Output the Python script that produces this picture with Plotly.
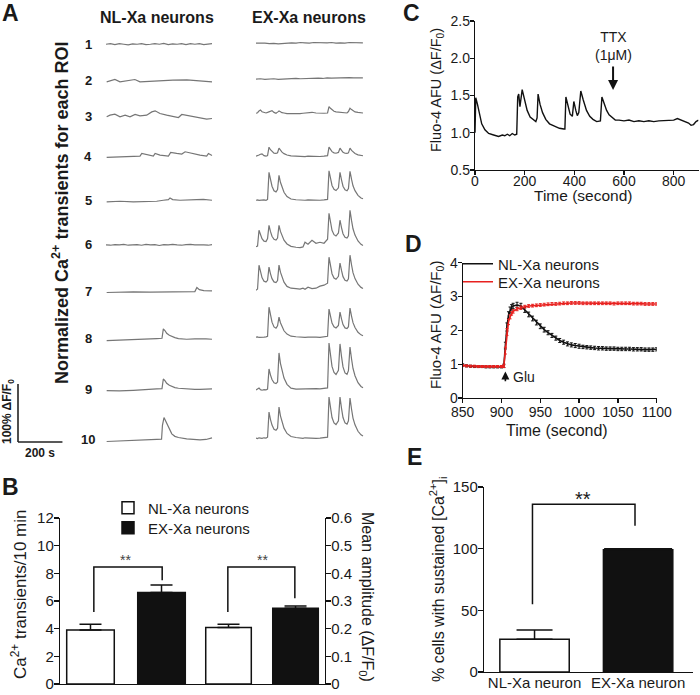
import plotly.graph_objects as go

W, H = 700, 695
def px(x): return x / W
def py(y): return 1 - y / H

FONT = "Liberation Sans, Arial, sans-serif"
TXT = "#1a1a1a"
TRACE_GRAY = "#767676"

# ---------------- Panel A : normalized Ca2+ transients (time s, dF/F0 %) ----------------
ROI_LABELS = ["1", "2", "3", "4", "5", "6", "7", "8", "9", "10"]
FLAT_T_NL = [0, 20, 40, 60, 80, 100, 120, 140, 160, 180, 200, 220, 240, 260, 280, 300, 320, 340, 360, 380, 400, 420, 440, 460, 477]
FLAT_T_EX = [0, 20, 40, 60, 80, 100, 120, 140, 160, 180, 200, 220, 240, 260, 280, 300, 320, 340, 360, 380, 400, 420, 440, 460, 481]

NL1_V = [0, 1, -0.5, 1, 0, -1, 0.5, 0, 1, -0.5, 0, 1, 0, 1.5, -0.5, 0.5, 0, 1, -0.5, 1, 0, 1, -0.5, 0, 1]
NL2_T = [3, 40, 63, 85, 108, 130, 153, 198, 243, 301, 364, 423, 477]
NL2_V = [-2.9, 1.2, -2.9, -1.2, 0, 1.2, -2.9, -1.7, -1.2, 0, 0.5, -1.2, -2.9]
NL3_T = [3, 18, 40, 63, 86, 108, 131, 153, 183, 206, 221, 243, 273, 303, 326, 341, 356, 386, 423, 453, 477]
NL3_V = [-1.1, 1.7, 3.4, -1.1, 1.7, -1.1, 2.9, 0.6, 1.7, 7.4, 9.2, 4.6, 1.7, -1.1, -2.3, 2.9, 1.7, -1.1, -4, -5.2, -4]
NL4_T = [3, 63, 123, 153, 161, 183, 213, 221, 243, 281, 291, 318, 341, 356, 386, 423, 453, 461, 477]
NL4_V = [-1.1, 0, 0, 1.1, 5.7, 3.4, 1.1, 5.7, 2.9, 1.1, 7.4, 5.7, 4.6, 8.6, 5.7, 2.9, 1.1, 5.7, 2.3]
NL5_T = [3, 63, 123, 183, 228, 258, 281, 288, 300, 333, 378, 408, 438, 477]
NL5_V = [-2.9, -1.7, -2.9, -2.3, -1.7, 0, 1.1, 4, 1.1, 0, 0, 1.1, 1.7, 0]
NL6_V = [0, -0.5, 0.5, 0, 1, -0.5, 0, 0.5, -0.5, 1, 0, 0.5, -1, 0.5, 0, 1, 0, -0.5, 0.5, 1, 0, 0.5, 0, -0.5, 0.5]
NL7_T = [3, 60, 123, 200, 273, 350, 400, 409, 420, 440, 460, 477]
NL7_V = [-1, 0, 0, -0.5, -0.5, 0.5, 0.6, 7.5, 4, 2.3, 1.7, 1.7]
NL8_T = [3, 60, 123, 180, 228, 252, 258, 266, 273, 285, 296, 310, 326, 363, 400, 423, 450, 477]
NL8_V = [-2.9, -2.3, -1.7, -1.1, 0.6, 1.1, 17.2, 14, 9.7, 6.3, 4.0, 2.3, 0.6, -0.6, 0, -0.6, 0, -0.6]
NL9_T = [3, 60, 123, 180, 228, 252, 258, 266, 273, 285, 296, 310, 326, 363, 400, 423, 450, 477]
NL9_V = [-1.1, -1.7, -0.6, 0, 1.7, 2.3, 18.9, 15.5, 11.5, 8, 5.7, 4.0, 2.9, 1.7, 1.1, 1.1, 1.7, 1.7]
NL10_T = [3, 60, 123, 180, 228, 250, 254, 261, 268, 273, 285, 296, 310, 326, 363, 400, 423, 450, 477]
NL10_V = [-2.9, -2.3, -1.7, -0.6, 0.6, 1.1, 25, 38.4, 33, 28.7, 17.2, 10.3, 6, 4.0, 1.7, 0, 0, 0.6, 3.4]

EX_T = [0, 7, 13.5, 20, 27, 36, 45, 52, 58.5, 65, 72, 81, 90, 97, 103.5, 110, 117, 126, 139.5, 157.5, 180,
        198, 211.5, 220.5, 234, 252, 270, 288, 306, 322,
        328.5, 335, 342, 351, 360, 371, 378, 385, 391.5, 400.5, 409.5, 416, 423, 430, 436.5, 445.5, 459, 472.5, 481.5]
EX1_V = [0, 0.5, 0, -1, -0.5, -1.5, -0.5, 0, 0.5, 0, 1, 0.5, 0, 1, 0.5, 0, 0.5, 1, 0, 0.5, 0, 1, 0.5, 0, 0.5]
EX2_V = [0, 0.5, -0.5, 0, 0.5, -0.5, 0, 0.5, 0, 1, 0.5, 1, 1.5, 1, 1.5, 1, 2, 1.5, 2, 1.5, 2, 2.5, 2, 2.5, 2]
EX3_V = [0, 1, 4, 5.7, 2.6, 1, 0.5, 1.5, 2.6, 3.4, 4.6, 1.5, 0, 2, 4, 2.6, 1, 0.5, -0.5, -0.5, -1,
         -0.5, 0, 0.5, 1, 1.7, 0.5, 0, 0, 0.5,
         11.5, 8.6, 5.7, 3.4, 2.3, 1.7, 1.2, 0.8, 0.5, 0, 0.5, 3, 8.6, 6.3, 4, 2.3, 1.5, 0.5, 0.5]
EX4_V = [0, 0.5, 2, 3.4, 4, 1, 0, 1, 15.5, 11.2, 7.8, 5.3, 4.7, 6, 13.8, 9.9, 6.9, 4.4, 2.1, 0.7, 0,
         -0.5, 0, -0.8, 0, -0.5, 0, -0.5, 0, 1,
         15.5, 11.2, 7.8, 5.7, 5.1, 6.5, 13.8, 9.9, 6.9, 5.1, 4.7, 5.8, 13.8, 9.9, 6.9, 4.6, 2.3, 1.1, 0.7]
EX5_V = [0, 0.8, 0, 0.5, 0, 0.6, 0, 1.5, 48.3, 34.8, 24.2, 16.4, 14.5, 18.4, 43.1, 31, 21.6, 13.8, 6.5, 2.2, 0.9,
         0, 0.5, 0, 0.6, 0, 0.5, 0, 0.6, 1.5,
         50.9, 36.6, 25.5, 18.8, 16.8, 21.4, 48.3, 34.8, 24.2, 17.9, 16.4, 20.3, 50, 36, 25, 16.5, 8.5, 4, 2.5]
EX6_V = [1, 2, 29.3, 21.1, 14.7, 10.5, 9.7, 15, 37.9, 27.3, 19, 13.6, 12.5, 15.9, 37.9, 27.3, 19, 12.1, 5.7, 1.5, 0,
         -0.5, 0.5, 8.6, 5.2, 12, 6.9, 8.6, 6.9, 13.8,
         58.6, 42.2, 29.3, 21.7, 19.3, 24.6, 46.6, 33.5, 23.3, 17.2, 15.8, 19.6, 63.8, 45.9, 31.9, 21, 10.8, 5.1, 3.2]
EX7_V = [0, 2, 43.1, 31, 21.6, 15.5, 14.2, 17, 39.7, 28.6, 19.9, 14.3, 13.1, 16.7, 43.1, 31, 21.6, 13.8, 6.5, 3.4, 2.6,
         1.7, 3.4, 1.7, 5.2, 2.6, 3.4, 6.9, 8.6, 12,
         56.9, 41, 28.4, 21, 18.8, 23.9, 46.6, 33.5, 23.3, 17.2, 15.8, 19.6, 60.3, 43.4, 30.2, 19.9, 10.3, 4.8, 3]
EX8_V = [0, 0.5, -0.5, 0, 0.5, 0, 0.5, 1.5, 51.7, 37.2, 25.9, 17.6, 15.5, 19.6, 34.5, 24.8, 17.3, 11, 5.2, 1.7, 0.7,
         0, 0.5, -0.5, 0, 0.5, 0, -0.5, 0.5, 1.5,
         48.3, 34.8, 24.2, 17.9, 15.9, 20.3, 43.1, 31, 21.6, 15.9, 14.7, 18.1, 50, 36, 25, 16.5, 8.5, 4, 2.5]
EX9_V = [0, 1.7, 3.4, 0.5, -0.5, 0.5, 0, 1.5, 36.2, 26, 18.1, 12.3, 10.9, 13.8, 63.8, 45.9, 31.9, 20.4, 9.6, 3.2, 1.5,
         1.7, 2.2, 1.7, 2.6, 1.7, 2.2, 1.7, 2.6, 3.4,
         81, 58.3, 40.5, 30, 26.7, 34, 79.3, 57.1, 39.7, 29.3, 27, 33.3, 74.1, 53.4, 37, 24.5, 12.6, 6, 3.7]
EX10_V = [0, -0.8, 0.5, 0, -0.5, 0.5, 0, 1.5, 44.8, 32.3, 22.4, 15.2, 13.4, 17, 53.4, 38.4, 26.7, 17.1, 8, 2.7, 1,
          0, -0.5, 0.5, 0, 0.5, -0.5, 0, 0.6, 1.5,
          70.7, 50.9, 35.4, 26.2, 23.3, 29.7, 70.7, 50.9, 35.4, 26.2, 24, 29.7, 69, 49.7, 34.5, 22.8, 11.7, 5.5, 3.5]

NL_TRACES = [(FLAT_T_NL, NL1_V), (NL2_T, NL2_V), (NL3_T, NL3_V), (NL4_T, NL4_V), (NL5_T, NL5_V),
             (FLAT_T_NL, NL6_V), (NL7_T, NL7_V), (NL8_T, NL8_V), (NL9_T, NL9_V), (NL10_T, NL10_V)]
EX_TRACES = [(FLAT_T_EX, EX1_V), (FLAT_T_EX, EX2_V), (EX_T, EX3_V), (EX_T, EX4_V), (EX_T, EX5_V),
             (EX_T, EX6_V), (EX_T, EX7_V), (EX_T, EX8_V), (EX_T, EX9_V), (EX_T, EX10_V)]

# vertical stacking offsets of the rows (layout, % units)
ROW_OFFSET_NL = [703, 641, 579, 509, 434, 357, 276, 195, 107, 21]
ROW_OFFSET_EX = [705, 643, 584, 510, 434, 353, 279, 198, 107, 24]

# ---------------- Panel B ----------------
B_LABELS = ["NL-Xa neurons", "EX-Xa neurons"]
B_FREQ = [3.9, 6.62]          # Ca2+ transients / 10 min
B_FREQ_ERR = [0.42, 0.53]
B_AMP = [0.204, 0.274]        # mean amplitude dF/F0
B_AMP_ERR = [0.012, 0.008]

# ---------------- Panel C ----------------
C_T = [0, 3, 10, 17, 27, 40, 55, 75, 95, 110, 120, 130, 140, 150, 160, 168, 172, 176, 181, 190, 200, 210, 222, 235,
       245, 250, 254, 262, 272, 285, 300, 320, 340, 358, 362, 366, 374, 383, 392, 398, 406, 412, 418, 426, 436, 449,
       462, 475, 490, 505, 511, 520, 530, 540, 552, 565, 580, 600, 620, 640, 660, 680, 700, 720, 740, 760, 780, 800,
       815, 830, 845, 860, 870, 880, 890, 900]
C_V = [1.0, 1.47, 1.38, 1.25, 1.12, 1.04, 0.99, 0.97, 0.95, 0.97, 0.96, 0.98, 0.96, 0.99, 0.97, 0.98, 1.48, 1.52, 1.35,
       1.58, 1.42, 1.3, 1.21, 1.18, 1.15, 1.2, 1.52, 1.38, 1.27, 1.18, 1.12, 1.09, 1.06, 1.05, 1.05, 1.48, 1.35, 1.25,
       1.22, 1.42, 1.3, 1.23, 1.27, 1.56, 1.44, 1.3, 1.22, 1.18, 1.15, 1.16, 1.48, 1.4, 1.3, 1.24, 1.2, 1.17, 1.17,
       1.16, 1.17, 1.15, 1.16, 1.15, 1.16, 1.15, 1.16, 1.16, 1.16, 1.17, 1.19, 1.17, 1.16, 1.13, 1.1, 1.11, 1.15, 1.17]
TTX_T = 556

# ---------------- Panel D ----------------
D_T = [850, 855, 860, 865, 870, 875, 880, 885, 890, 895, 900,
       903, 905, 907, 909, 911, 913, 915,
       920, 925, 930, 935, 940, 945, 950, 955, 960, 965, 970, 975, 980, 985, 990, 995, 1000,
       1005, 1010, 1015, 1020, 1025, 1030, 1035, 1040, 1045, 1050, 1055, 1060, 1065, 1070, 1075, 1080, 1085, 1090, 1095, 1100]
D_NL = [0.97, 0.95, 0.94, 0.93, 0.93, 0.93, 0.92, 0.92, 0.92, 0.92, 0.92,
        0.95, 1.55, 2.1, 2.45, 2.6, 2.68, 2.72,
        2.75, 2.72, 2.6, 2.47, 2.35, 2.23, 2.12, 2.02, 1.93, 1.85, 1.77, 1.7, 1.65, 1.6, 1.57, 1.55, 1.53,
        1.51, 1.5, 1.49, 1.48, 1.47, 1.47, 1.46, 1.46, 1.46, 1.45, 1.45, 1.45, 1.45, 1.44, 1.44, 1.44, 1.43, 1.43, 1.43, 1.44]
D_NL_ERR = [0.04, 0.03, 0.03, 0.03, 0.03, 0.03, 0.03, 0.03, 0.03, 0.03, 0.03,
            0.05, 0.1, 0.12, 0.1, 0.09, 0.08, 0.08,
            0.08, 0.08, 0.07, 0.07, 0.07, 0.07, 0.07, 0.07, 0.06, 0.06, 0.06, 0.06, 0.06, 0.06, 0.06, 0.06, 0.06,
            0.05, 0.05, 0.05, 0.05, 0.05, 0.05, 0.05, 0.05, 0.05, 0.05, 0.05, 0.05, 0.05, 0.05, 0.05, 0.05, 0.05, 0.05, 0.05, 0.05]
D_EX = [0.96, 0.95, 0.94, 0.94, 0.93, 0.93, 0.93, 0.93, 0.93, 0.93, 0.93,
        0.94, 1.4, 1.95, 2.25, 2.4, 2.5, 2.56,
        2.63, 2.67, 2.7, 2.72, 2.73, 2.74, 2.75, 2.76, 2.77, 2.78, 2.78, 2.79, 2.8, 2.8, 2.81, 2.81, 2.81,
        2.8, 2.8, 2.8, 2.8, 2.8, 2.8, 2.8, 2.8, 2.79, 2.8, 2.8, 2.8, 2.8, 2.79, 2.79, 2.79, 2.78, 2.78, 2.78, 2.78]
D_EX_ERR = [0.03, 0.03, 0.03, 0.03, 0.03, 0.03, 0.03, 0.03, 0.03, 0.03, 0.03,
            0.04, 0.1, 0.1, 0.08, 0.06, 0.05, 0.05,
            0.05, 0.05, 0.04, 0.04, 0.04, 0.04, 0.04, 0.04, 0.04, 0.04, 0.04, 0.04, 0.04, 0.04, 0.04, 0.04, 0.04,
            0.04, 0.04, 0.04, 0.04, 0.04, 0.04, 0.04, 0.04, 0.04, 0.04, 0.04, 0.04, 0.04, 0.04, 0.04, 0.04, 0.04, 0.04, 0.04, 0.04]
D_NAMES = ["NL-Xa neurons", "EX-Xa neurons"]
GLU_T = 905

# ---------------- Panel E ----------------
E_CATEGORIES = ["NL-Xa neuron", "EX-Xa neuron"]
E_VALUES = [26.6, 99.2]
E_ERR = [7.4, 0.8]

fig = go.Figure()

# Panel A traces
for (t, v), off in zip(NL_TRACES, ROW_OFFSET_NL):
    fig.add_trace(go.Scatter(x=t, y=[off + a for a in v], mode="lines", xaxis="x", yaxis="y",
                             line=dict(color=TRACE_GRAY, width=1.2), showlegend=False, hoverinfo="skip"))
for (t, v), off in zip(EX_TRACES, ROW_OFFSET_EX):
    fig.add_trace(go.Scatter(x=t, y=[off + a for a in v], mode="lines", xaxis="x2", yaxis="y2",
                             line=dict(color=TRACE_GRAY, width=1.2), showlegend=False, hoverinfo="skip"))

# Panel C
fig.add_trace(go.Scatter(x=C_T, y=C_V, mode="lines", xaxis="x3", yaxis="y3",
                         line=dict(color="#111", width=1.4), showlegend=False))

# Panel D (one legend box per series so the rows sit where the reference has them)
fig.add_trace(go.Scatter(x=D_T, y=D_NL, mode="lines", xaxis="x4", yaxis="y4", name=D_NAMES[0],
                         line=dict(color="#111", width=1.6), legend="legend",
                         error_y=dict(type="data", array=D_NL_ERR, color="#111", thickness=1, width=1.5)))
fig.add_trace(go.Scatter(x=D_T, y=D_EX, mode="lines", xaxis="x4", yaxis="y4", name=D_NAMES[1],
                         line=dict(color="#e8211f", width=1.6), legend="legend3",
                         error_y=dict(type="data", array=D_EX_ERR, color="#e8211f", thickness=1, width=1.5)))

# Panel B
B_POS = [1.0, 2.06, 3.06, 4.06]
B_FILL = ["white", "#111"]
B_LEG = ["legend2", "legend4"]
for i in range(2):
    fig.add_trace(go.Bar(x=[B_POS[i]], y=[B_FREQ[i]], width=0.71, xaxis="x5", yaxis="y5",
                         name=B_LABELS[i], legend=B_LEG[i],
                         marker=dict(color=B_FILL[i], line=dict(color="#111", width=1.5)),
                         error_y=dict(type="data", array=[B_FREQ_ERR[i]], arrayminus=[0], symmetric=False,
                                      color="#111", thickness=1.5, width=11)))
for i in range(2):
    fig.add_trace(go.Bar(x=[B_POS[i + 2]], y=[B_AMP[i]], width=0.68, xaxis="x5", yaxis="y6",
                         name=B_LABELS[i], showlegend=False,
                         marker=dict(color=B_FILL[i], line=dict(color="#111", width=1.5)),
                         error_y=dict(type="data", array=[B_AMP_ERR[i]], arrayminus=[0], symmetric=False,
                                      color="#111", thickness=1.5, width=11)))

# Panel E
E_FILL = ["white", "#111"]
E_CAP = [18, 34]
for i in range(2):
    fig.add_trace(go.Bar(x=[E_CATEGORIES[i]], y=[E_VALUES[i]], width=0.67, xaxis="x7", yaxis="y7",
                         showlegend=False,
                         marker=dict(color=E_FILL[i], line=dict(color="#111", width=1.5)),
                         error_y=dict(type="data", array=[E_ERR[i]], arrayminus=[0], symmetric=False,
                                      color="#111", thickness=1.5, width=E_CAP[i])))

hidden = dict(visible=False, showgrid=False, zeroline=False, fixedrange=True, automargin=False)
def axis_style(**kw):
    d = dict(showline=True, linecolor="#111", linewidth=1.2, ticks="outside", ticklen=4, tickwidth=1.2,
             tickcolor="#111", showgrid=False, zeroline=False, automargin=False, ticklabelstandoff=-3,
             tickfont=dict(size=14, color=TXT, family=FONT))
    d.update(kw)
    return d

def leg(x, y):
    return dict(x=px(x), y=py(y), xanchor="left", yanchor="middle", bgcolor="rgba(0,0,0,0)",
                font=dict(size=15, color=TXT, family=FONT), tracegroupgap=0, itemwidth=30, borderwidth=0)

fig.update_layout(
    template="none",
    width=W, height=H, autosize=False,
    margin=dict(l=0, r=0, t=0, b=0, pad=0, autoexpand=False),
    paper_bgcolor="white", plot_bgcolor="rgba(0,0,0,0)",
    font=dict(family=FONT, color=TXT),
    barmode="overlay",
    xaxis=dict(hidden, domain=[0, px(214)], range=[-477, 486], anchor="y"),
    yaxis=dict(hidden, domain=[py(452), py(20)], range=[0, 744.8], anchor="x"),
    xaxis2=dict(hidden, domain=[px(256), px(365)], range=[0, 490.5], anchor="y2"),
    yaxis2=dict(hidden, domain=[py(452), py(20)], range=[0, 744.8], anchor="x2"),
    xaxis3=axis_style(domain=[px(475), px(698.5)], range=[0, 900], tickvals=[0, 200, 400, 600, 800],
                      ticklabelstandoff=-6, anchor="y3"),
    yaxis3=axis_style(domain=[py(170), py(21)], range=[0.5, 2.5], tickvals=[0.5, 1.0, 1.5, 2.0, 2.5],
                      tickformat=".1f", anchor="x3"),
    xaxis4=axis_style(domain=[px(462.7), px(656.7)], range=[850, 1100],
                      tickvals=[850, 900, 950, 1000, 1050, 1100], anchor="y4"),
    yaxis4=axis_style(domain=[py(398), py(262.7)], range=[0, 4], tickvals=[0, 1, 2, 3, 4], anchor="x4"),
    xaxis5=axis_style(domain=[px(60), px(325)], range=[0.545, 4.5], ticks="", showticklabels=False, anchor="y5"),
    yaxis5=axis_style(domain=[py(684), py(518)], range=[0, 12], tickvals=[0, 2, 4, 6, 8, 10, 12], ticklen=5,
                      tickfont=dict(size=15, color=TXT, family=FONT), anchor="x5"),
    yaxis6=axis_style(overlaying="y5", side="right", range=[0, 0.6], tickvals=[0, 0.1, 0.2, 0.3, 0.4, 0.5, 0.6],
                      ticktext=["0", "0.1", "0.2", "0.3", "0.4", "0.5", "0.6"], ticklen=5,
                      tickfont=dict(size=15, color=TXT, family=FONT), anchor="x5"),
    xaxis7=axis_style(domain=[px(484), px(693)], range=[-0.488, 1.53], ticks="", type="category",
                      tickfont=dict(size=15, color=TXT, family=FONT), anchor="y7"),
    yaxis7=axis_style(domain=[py(672), py(487)], range=[0, 150], tickvals=[0, 50, 100, 150], ticklen=5,
                      tickfont=dict(size=15, color=TXT, family=FONT), anchor="x7"),
    legend=leg(458, 264),
    legend3=leg(458, 282),
    legend2=leg(108, 508),
    legend4=leg(108, 528),
)

ann = []
def label(x, y, text, size, bold=False, angle=0, xanchor="center", yanchor="middle", xref="paper", yref="paper", color=TXT):
    t = f"<b>{text}</b>" if bold else text
    ann.append(dict(x=x, y=y, xref=xref, yref=yref, text=t, showarrow=False, textangle=angle,
                    xanchor=xanchor, yanchor=yanchor, font=dict(size=size, color=color, family=FONT)))

# panel letters
for letter, (lx, ly) in {"A": (10, 13), "B": (10, 487), "C": (412, 13), "D": (413, 244), "E": (414, 457)}.items():
    label(px(lx), py(ly), letter, 23, bold=True)

# Panel A text
label(px(157), py(17), "NL-Xa neurons", 16, bold=True)
label(px(309), py(17), "EX-Xa neurons", 16, bold=True)
label(px(60), py(213), "Normalized Ca<sup>2+</sup> transients for each ROI", 18, bold=True, angle=-90)
for lab, off in zip(ROI_LABELS, ROW_OFFSET_NL):
    label(-81, off, lab, 13, bold=True, xref="x", yref="y")
label(px(8), py(412), "100% ΔF/F<sub>0</sub>", 12, bold=True, angle=-90)
label(px(40), py(453), "200 s", 12, bold=True)

# Panel C text
label(px(437), py(90), "Fluo-4 AFU (ΔF/F<sub>0</sub>)", 14.5, angle=-90)
label(px(583), py(195), "Time (second)", 15.5)
label(TTX_T, 2.17, "TTX<br>(1μM)", 14, xref="x3", yref="y3")
ann.append(dict(x=TTX_T, y=1.575, ax=TTX_T, ay=1.91, xref="x3", yref="y3", axref="x3", ayref="y3",
                showarrow=True, arrowhead=2, arrowsize=1, arrowwidth=2, arrowcolor="#111", text=""))

# Panel D text
label(px(436), py(325), "Fluo-4 AFU (ΔF/F<sub>0</sub>)", 15, angle=-90)
label(px(557), py(430), "Time (second)", 16)
ann.append(dict(x=GLU_T, y=0.78, ax=GLU_T, ay=0.45, xref="x4", yref="y4", axref="x4", ayref="y4",
                showarrow=True, arrowhead=2, arrowsize=1, arrowwidth=1.6, arrowcolor="#111", text=""))
label(912, 0.62, "Glu", 14, xref="x4", yref="y4", xanchor="left")

# Panel B text
label(px(19), py(595), "Ca<sup>2+</sup> transients/10 min", 17, angle=-90)
label(px(367), py(597), "Mean amplitude (ΔF/F<sub>0</sub>)", 16, angle=90)
label(1.52, 9.0, "**", 14, xref="x5", yref="y5", color="#444")
label(3.56, 9.0, "**", 14, xref="x5", yref="y5", color="#444")

# Panel E text
label(px(438), py(579), "% cells with sustained [Ca<sup>2+</sup>]<sub>i</sub>", 16, angle=-90)
label(0.47, 140, "**", 20, xref="x7", yref="y7")

fig.update_layout(annotations=ann)

shapes = []
# scale bar in panel A data units (200 s, 100 % dF/F0)
SB_T, SB_Y = -396, 17.2
shapes.append(dict(type="line", xref="x", yref="y", x0=SB_T, x1=SB_T, y0=SB_Y, y1=SB_Y + 100,
                   line=dict(color="#222", width=1.6)))
shapes.append(dict(type="line", xref="x", yref="y", x0=SB_T, x1=SB_T + 200, y0=SB_Y, y1=SB_Y,
                   line=dict(color="#222", width=1.6)))
# significance brackets
for (x0, x1, yb0, yt, yb1) in [(1.05, 2.07, 5.2, 8.45, 7.5), (3.05, 4.05, 5.2, 8.45, 6.2)]:
    shapes.append(dict(type="path", xref="x5", yref="y5", path=f"M {x0},{yb0} L {x0},{yt} L {x1},{yt} L {x1},{yb1}",
                       line=dict(color="#111", width=1.5)))
shapes.append(dict(type="path", xref="x7", yref="y7", path="M -0.02,55 L -0.02,136 L 0.97,136 L 0.97,118.5",
                   line=dict(color="#111", width=1.5)))
fig.update_layout(shapes=shapes)

fig.write_html("out.html", config={"displayModeBar": False, "staticPlot": True},
               post_script="document.body.style.margin='0';document.body.style.overflow='hidden';")
